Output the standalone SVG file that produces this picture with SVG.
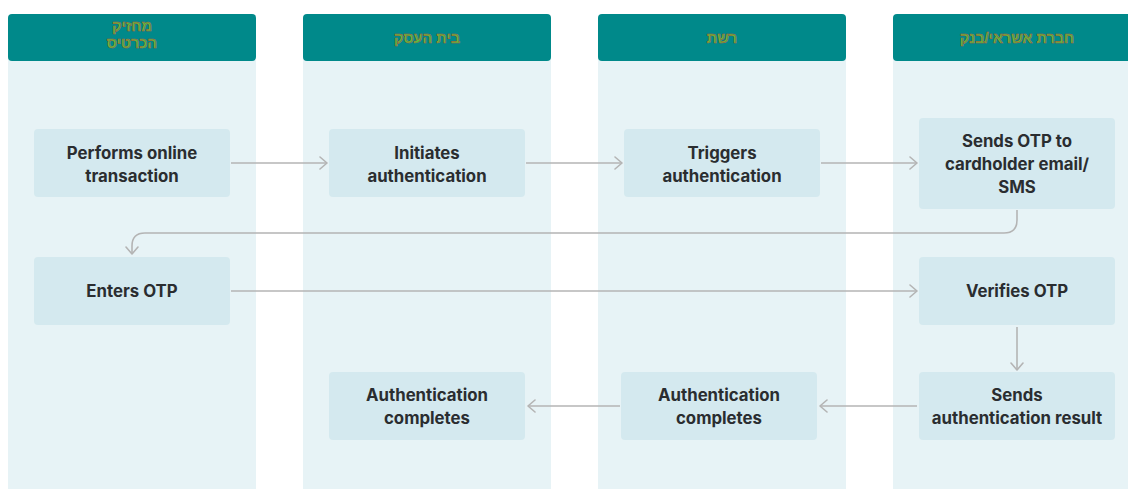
<svg xmlns="http://www.w3.org/2000/svg" width="1128" height="489" viewBox="0 0 1128 489">
<defs>
<marker id="chev" markerUnits="userSpaceOnUse" markerWidth="14" markerHeight="16" refX="8" refY="7" orient="auto">
<path d="M1,1 L8,7 L1,13" fill="none" stroke="#b4b4b4" stroke-width="1.6" stroke-linecap="round" stroke-linejoin="round"/>
</marker>
</defs>
<style>
.lane{fill:#e7f3f6}
.head{fill:#00898a}
.htxt{font-family:"Liberation Sans","DejaVu Sans",sans-serif;font-weight:bold;font-size:14.5px;fill:#4fc043;stroke:#c4472c;stroke-width:0.45;text-anchor:middle}
.node{fill:#d4e9ef}
.ntxt{font-family:Inter,"Liberation Sans",sans-serif;font-weight:bold;font-size:16.8px;fill:#2a2d30;text-anchor:middle}
.conn{fill:none;stroke:#b4b4b4;stroke-width:1.6;marker-end:url(#chev)}
</style>
<rect width="1128" height="489" fill="#ffffff"/>
<g id="lanes">
<g id="lane1"><rect class="lane" x="8" y="55" width="248" height="434"/><rect class="head" x="8" y="14" width="248" height="47" rx="4"/><text class="htxt" x="132" y="31">מחזיק</text><text class="htxt" x="132" y="48">הכרטיס</text></g>
<g id="lane2"><rect class="lane" x="303" y="55" width="248" height="434"/><rect class="head" x="303" y="14" width="248" height="47" rx="4"/><text class="htxt" x="427" y="43">בית העסק</text></g>
<g id="lane3"><rect class="lane" x="598" y="55" width="248" height="434"/><rect class="head" x="598" y="14" width="248" height="47" rx="4"/><text class="htxt" x="722" y="43">רשת</text></g>
<g id="lane4"><rect class="lane" x="893" y="55" width="248" height="434"/><rect class="head" x="893" y="14" width="248" height="47" rx="4"/><text class="htxt" x="1017" y="43">חברת אשראי/בנק</text></g>
</g>
<g id="connectors">
<path class="conn" d="M231,163 L327,163"/>
<path class="conn" d="M526,163 L622,163"/>
<path class="conn" d="M821,163 L917,163"/>
<path class="conn" d="M1017,210 L1017,220 Q1017,233 1004,233 L145,233 Q132,233 132,246 L132,254"/>
<path class="conn" d="M231,291 L917,291"/>
<path class="conn" d="M1017,327 L1017,370"/>
<path class="conn" d="M917,406 L820,406"/>
<path class="conn" d="M620,406 L528,406"/>
</g>
<g id="n1"><rect class="node" x="34" y="129" width="196" height="68" rx="4"/><text class="ntxt" x="132" y="159">Performs online</text><text class="ntxt" x="132" y="182">transaction</text></g>
<g id="n2"><rect class="node" x="329" y="129" width="196" height="68" rx="4"/><text class="ntxt" x="427" y="159">Initiates</text><text class="ntxt" x="427" y="182">authentication</text></g>
<g id="n3"><rect class="node" x="624" y="129" width="196" height="68" rx="4"/><text class="ntxt" x="722" y="159">Triggers</text><text class="ntxt" x="722" y="182">authentication</text></g>
<g id="n4"><rect class="node" x="919" y="118" width="196" height="91" rx="4"/><text class="ntxt" x="1017" y="147">Sends OTP to</text><text class="ntxt" x="1017" y="170">cardholder email/</text><text class="ntxt" x="1017" y="193">SMS</text></g>
<g id="n5"><rect class="node" x="34" y="257" width="196" height="68" rx="4"/><text class="ntxt" x="132" y="297">Enters OTP</text></g>
<g id="n6"><rect class="node" x="919" y="257" width="196" height="68" rx="4"/><text class="ntxt" x="1017" y="297">Verifies OTP</text></g>
<g id="n7"><rect class="node" x="919" y="372" width="196" height="68" rx="4"/><text class="ntxt" x="1017" y="401">Sends</text><text class="ntxt" x="1017" y="424">authentication result</text></g>
<g id="n8"><rect class="node" x="621" y="372" width="196" height="68" rx="4"/><text class="ntxt" x="719" y="401">Authentication</text><text class="ntxt" x="719" y="424">completes</text></g>
<g id="n9"><rect class="node" x="329" y="372" width="196" height="68" rx="4"/><text class="ntxt" x="427" y="401">Authentication</text><text class="ntxt" x="427" y="424">completes</text></g>
</svg>
